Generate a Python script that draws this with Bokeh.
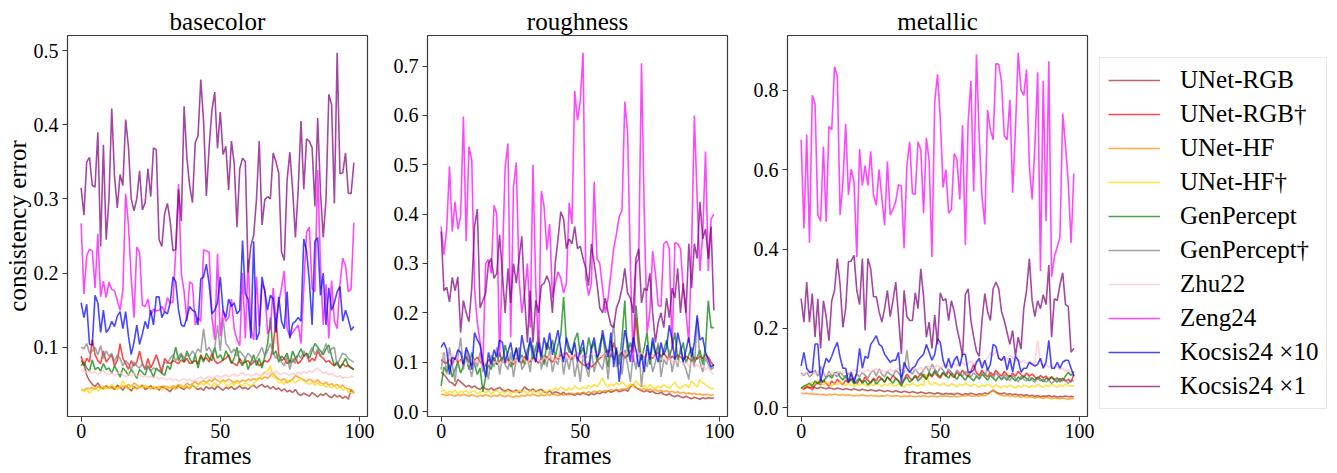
from bokeh.plotting import figure
from bokeh.layouts import row
from bokeh.models import Range1d, FixedTicker, Legend, LegendItem, NumeralTickFormatter
from bokeh.embed import file_html
from bokeh.resources import INLINE

FONT = "Liberation Serif"

series_names = ["UNet-RGB", "UNet-RGB†", "UNet-HF", "UNet-HF†", "GenPercept",
                "GenPercept†", "Zhu22", "Zeng24", "Kocsis24 ×10", "Kocsis24 ×1"]
series_colors = ["brown", "red", "darkorange", "gold", "green",
                 "gray", "pink", "magenta", "blue", "purple"]
panel_titles = ["basecolor", "roughness", "metallic"]
x_label = "frames"
y_label = "consistency error"
x_ticks = [0, 50, 100]
y_ticks_basecolor = [0.1, 0.2, 0.3, 0.4, 0.5]
y_ticks_roughness = [0.0, 0.1, 0.2, 0.3, 0.4, 0.5, 0.6, 0.7]
y_ticks_metallic = [0.0, 0.2, 0.4, 0.6, 0.8]

# ---------------- basecolor ----------------
bc_unet_rgb = [
    0.082, 0.078, 0.062, 0.055, 0.050, 0.047, 0.052, 0.046, 0.044, 0.048,
    0.045, 0.047, 0.043, 0.049, 0.046, 0.042, 0.048, 0.045, 0.041, 0.047,
    0.044, 0.046, 0.049, 0.043, 0.045, 0.048, 0.044, 0.046, 0.042, 0.047,
    0.045, 0.043, 0.040, 0.046, 0.044, 0.048, 0.045, 0.043, 0.047, 0.044,
    0.049, 0.046, 0.043, 0.045, 0.042, 0.047, 0.044, 0.046, 0.043, 0.048,
    0.045, 0.042, 0.046, 0.044, 0.047, 0.043, 0.045, 0.048, 0.044, 0.046,
    0.043, 0.047, 0.049, 0.045, 0.048, 0.050, 0.046, 0.048, 0.044, 0.047,
    0.043, 0.045, 0.041, 0.044, 0.040, 0.042, 0.039, 0.043, 0.037, 0.035,
    0.038, 0.036, 0.034, 0.039, 0.036, 0.033, 0.037, 0.035, 0.038, 0.034,
    0.032, 0.036, 0.033, 0.035, 0.031, 0.034, 0.030, 0.043, 0.038]
bc_unet_rgb_d = [
    0.088, 0.075, 0.085, 0.080, 0.110, 0.090, 0.082, 0.078, 0.095, 0.080,
    0.085, 0.090, 0.075, 0.082, 0.105, 0.085, 0.078, 0.070, 0.082, 0.075,
    0.080, 0.095, 0.078, 0.070, 0.085, 0.072, 0.080, 0.090, 0.078, 0.065,
    0.085, 0.080, 0.078, 0.082, 0.080, 0.078, 0.083, 0.080, 0.085, 0.078,
    0.080, 0.082, 0.078, 0.090, 0.083, 0.086, 0.080, 0.092, 0.082, 0.078,
    0.080, 0.083, 0.085, 0.090, 0.080, 0.078, 0.075, 0.085, 0.078, 0.080,
    0.082, 0.076, 0.080, 0.082, 0.075, 0.078, 0.082, 0.080, 0.085, 0.100,
    0.140, 0.090, 0.082, 0.085, 0.078, 0.082, 0.080, 0.085, 0.078, 0.082,
    0.088, 0.092, 0.080, 0.085, 0.082, 0.095, 0.088, 0.085, 0.080, 0.082,
    0.078, 0.075, 0.080, 0.072, 0.078, 0.074, 0.076, 0.073, 0.070]
bc_unet_hf = [
    0.043, 0.042, 0.045, 0.044, 0.046, 0.043, 0.047, 0.045, 0.044, 0.048,
    0.046, 0.045, 0.043, 0.047, 0.045, 0.048, 0.046, 0.050, 0.047, 0.052,
    0.049, 0.046, 0.048, 0.045, 0.047, 0.044, 0.046, 0.045, 0.047, 0.046,
    0.048, 0.046, 0.045, 0.048, 0.047, 0.050, 0.048, 0.046, 0.052, 0.049,
    0.051, 0.054, 0.050, 0.053, 0.055, 0.052, 0.056, 0.054, 0.058, 0.055,
    0.053, 0.056, 0.054, 0.057, 0.055, 0.052, 0.055, 0.053, 0.056, 0.054,
    0.057, 0.055, 0.058, 0.056, 0.059, 0.057, 0.060, 0.058, 0.062, 0.065,
    0.060, 0.057, 0.055, 0.058, 0.052, 0.055, 0.057, 0.062, 0.060, 0.058,
    0.056, 0.054, 0.057, 0.055, 0.053, 0.056, 0.052, 0.050, 0.053, 0.049,
    0.051, 0.048, 0.050, 0.046, 0.049, 0.045, 0.044, 0.042, 0.040]
bc_unet_hf_d = [
    0.044, 0.040, 0.043, 0.038, 0.042, 0.046, 0.041, 0.044, 0.048, 0.043,
    0.045, 0.050, 0.046, 0.043, 0.047, 0.055, 0.046, 0.044, 0.048, 0.045,
    0.043, 0.047, 0.045, 0.049, 0.046, 0.044, 0.047, 0.043, 0.046, 0.042,
    0.045, 0.048, 0.044, 0.047, 0.043, 0.046, 0.049, 0.045, 0.048, 0.044,
    0.050, 0.046, 0.048, 0.052, 0.049, 0.053, 0.050, 0.048, 0.052, 0.049,
    0.051, 0.055, 0.050, 0.047, 0.052, 0.049, 0.053, 0.050, 0.048, 0.052,
    0.050, 0.047, 0.051, 0.055, 0.058, 0.062, 0.066, 0.068, 0.075, 0.060,
    0.058, 0.052, 0.054, 0.050, 0.056, 0.053, 0.055, 0.052, 0.055, 0.058,
    0.054, 0.052, 0.050, 0.053, 0.049, 0.052, 0.048, 0.050, 0.046, 0.049,
    0.045, 0.048, 0.044, 0.047, 0.042, 0.045, 0.040, 0.038, 0.040]
bc_genpercept = [
    0.075, 0.080, 0.072, 0.068, 0.083, 0.070, 0.073, 0.068, 0.078, 0.070,
    0.072, 0.065, 0.075, 0.068, 0.060, 0.072, 0.068, 0.062, 0.070, 0.065,
    0.058, 0.070, 0.066, 0.062, 0.075, 0.068, 0.060, 0.072, 0.068, 0.065,
    0.062, 0.075, 0.070, 0.085, 0.100, 0.082, 0.090, 0.080, 0.095, 0.085,
    0.078, 0.090, 0.072, 0.088, 0.080, 0.092, 0.085, 0.082, 0.100, 0.085,
    0.090, 0.082, 0.095, 0.088, 0.078, 0.085, 0.100, 0.080, 0.075, 0.085,
    0.070, 0.080, 0.090, 0.075, 0.085, 0.072, 0.088, 0.105, 0.140, 0.090,
    0.095, 0.080, 0.088, 0.085, 0.092, 0.078, 0.095, 0.085, 0.090, 0.098,
    0.088, 0.092, 0.085, 0.095, 0.105, 0.100, 0.095, 0.090, 0.098, 0.103,
    0.088, 0.075, 0.080, 0.072, 0.078, 0.085, 0.075, 0.072, 0.070]
bc_genpercept_d = [
    0.100, 0.098, 0.105, 0.092, 0.095, 0.100, 0.090, 0.102, 0.085, 0.095,
    0.088, 0.092, 0.080, 0.090, 0.085, 0.075, 0.082, 0.078, 0.070, 0.080,
    0.075, 0.072, 0.078, 0.070, 0.074, 0.068, 0.072, 0.070, 0.068, 0.072,
    0.080, 0.078, 0.085, 0.090, 0.082, 0.088, 0.092, 0.085, 0.090, 0.088,
    0.095, 0.090, 0.098, 0.093, 0.125, 0.095, 0.100, 0.092, 0.098, 0.130,
    0.095, 0.140, 0.105, 0.100, 0.092, 0.098, 0.088, 0.095, 0.090, 0.085,
    0.092, 0.088, 0.080, 0.085, 0.092, 0.100, 0.088, 0.095, 0.105, 0.092,
    0.085, 0.090, 0.080, 0.075, 0.088, 0.070, 0.085, 0.078, 0.090, 0.085,
    0.095, 0.088, 0.092, 0.100, 0.090, 0.098, 0.088, 0.095, 0.105, 0.092,
    0.098, 0.100, 0.075, 0.085, 0.092, 0.090, 0.085, 0.082, 0.080]
bc_zhu22 = [
    0.070, 0.068, 0.066, 0.068, 0.065, 0.067, 0.064, 0.066, 0.068, 0.065,
    0.063, 0.066, 0.062, 0.064, 0.067, 0.063, 0.060, 0.064, 0.062, 0.065,
    0.061, 0.063, 0.060, 0.062, 0.059, 0.061, 0.058, 0.060, 0.057, 0.059,
    0.058, 0.056, 0.058, 0.055, 0.057, 0.054, 0.056, 0.058, 0.055, 0.057,
    0.054, 0.056, 0.058, 0.060, 0.057, 0.059, 0.061, 0.058, 0.060, 0.062,
    0.059, 0.061, 0.063, 0.060, 0.062, 0.064, 0.061, 0.063, 0.066, 0.062,
    0.064, 0.061, 0.063, 0.065, 0.062, 0.064, 0.067, 0.063, 0.066, 0.064,
    0.068, 0.065, 0.063, 0.066, 0.064, 0.062, 0.065, 0.063, 0.066, 0.064,
    0.067, 0.065, 0.068, 0.066, 0.070, 0.072, 0.068, 0.065, 0.067, 0.063,
    0.065, 0.062, 0.060, 0.062, 0.058, 0.060, 0.059, 0.061, 0.060]
bc_zeng24 = [
    0.267, 0.172, 0.223, 0.232, 0.230, 0.180, 0.253, 0.168, 0.189, 0.167,
    0.188, 0.178, 0.176, 0.163, 0.150, 0.178, 0.307, 0.265, 0.193, 0.140,
    0.235, 0.228, 0.157, 0.155, 0.165, 0.143, 0.151, 0.149, 0.150, 0.155,
    0.148, 0.167, 0.160, 0.161, 0.231, 0.320, 0.200, 0.175, 0.135, 0.188,
    0.185, 0.130, 0.140, 0.135, 0.231, 0.230, 0.228, 0.140, 0.110, 0.226,
    0.115, 0.150, 0.135, 0.140, 0.165, 0.125, 0.110, 0.102, 0.200, 0.112,
    0.218, 0.125, 0.110, 0.195, 0.128, 0.185, 0.178, 0.118, 0.125, 0.180,
    0.135, 0.160, 0.180, 0.203, 0.125, 0.115, 0.120, 0.125, 0.130, 0.105,
    0.180, 0.255, 0.262, 0.180, 0.175, 0.339, 0.210, 0.130, 0.185, 0.112,
    0.190, 0.135, 0.125, 0.185, 0.220, 0.210, 0.175, 0.178, 0.268]
bc_kocsis10 = [
    0.160, 0.140, 0.158, 0.104, 0.103, 0.170, 0.160, 0.120, 0.150, 0.120,
    0.125, 0.135, 0.128, 0.142, 0.148, 0.125, 0.148, 0.115, 0.090, 0.107,
    0.130, 0.104, 0.118, 0.135, 0.125, 0.150, 0.130, 0.168, 0.168, 0.140,
    0.148, 0.145, 0.160, 0.195, 0.188, 0.150, 0.130, 0.128, 0.140, 0.155,
    0.150, 0.148, 0.130, 0.192, 0.195, 0.212, 0.185, 0.145, 0.150, 0.160,
    0.195, 0.150, 0.140, 0.165, 0.155, 0.160, 0.145, 0.150, 0.244, 0.172,
    0.165, 0.112, 0.243, 0.110, 0.120, 0.195, 0.175, 0.150, 0.170, 0.165,
    0.120, 0.168, 0.135, 0.125, 0.175, 0.112, 0.132, 0.135, 0.140, 0.135,
    0.246, 0.230, 0.190, 0.130, 0.243, 0.248, 0.170, 0.200, 0.130, 0.180,
    0.150, 0.160, 0.175, 0.182, 0.135, 0.150, 0.138, 0.123, 0.128]
bc_kocsis1 = [
    0.315, 0.278, 0.350, 0.356, 0.318, 0.316, 0.390, 0.236, 0.373, 0.245,
    0.300, 0.422, 0.330, 0.288, 0.333, 0.318, 0.407, 0.370, 0.300, 0.284,
    0.300, 0.338, 0.285, 0.295, 0.341, 0.303, 0.369, 0.366, 0.245, 0.236,
    0.280, 0.294, 0.270, 0.230, 0.232, 0.313, 0.270, 0.425, 0.355, 0.318,
    0.295, 0.376, 0.385, 0.461, 0.405, 0.304, 0.370, 0.420, 0.444, 0.368,
    0.417, 0.360, 0.371, 0.312, 0.378, 0.348, 0.262, 0.341, 0.355, 0.350,
    0.201, 0.237, 0.251, 0.299, 0.378, 0.265, 0.299, 0.303, 0.300, 0.362,
    0.350, 0.335, 0.229, 0.217, 0.325, 0.363, 0.312, 0.248, 0.313, 0.405,
    0.313, 0.381, 0.378, 0.369, 0.290, 0.409, 0.309, 0.248, 0.300, 0.441,
    0.427, 0.294, 0.497, 0.334, 0.335, 0.362, 0.308, 0.307, 0.349]

# ---------------- roughness ----------------
rg_unet_rgb = [
    0.080, 0.075, 0.068, 0.060, 0.058, 0.052, 0.065, 0.060, 0.055, 0.050,
    0.053, 0.048, 0.052, 0.047, 0.045, 0.050, 0.046, 0.044, 0.048, 0.043,
    0.046, 0.049, 0.044, 0.041, 0.045, 0.042, 0.040, 0.044, 0.038, 0.042,
    0.050, 0.045, 0.042, 0.046, 0.040, 0.043, 0.045, 0.040, 0.038, 0.042,
    0.036, 0.040, 0.038, 0.035, 0.039, 0.034, 0.037, 0.035, 0.033, 0.036,
    0.034, 0.038, 0.035, 0.033, 0.037, 0.034, 0.038, 0.036, 0.040, 0.038,
    0.042, 0.039, 0.041, 0.044, 0.040, 0.042, 0.045, 0.041, 0.050, 0.055,
    0.048, 0.045, 0.042, 0.040, 0.043, 0.039, 0.041, 0.037, 0.036, 0.039,
    0.035, 0.033, 0.036, 0.032, 0.030, 0.033, 0.030, 0.028, 0.031, 0.028,
    0.026, 0.029, 0.027, 0.025, 0.028, 0.026, 0.028, 0.027, 0.028]
rg_unet_rgb_d = [
    0.105, 0.100, 0.098, 0.108, 0.095, 0.110, 0.100, 0.105, 0.098, 0.112,
    0.100, 0.094, 0.105, 0.110, 0.100, 0.098, 0.092, 0.105, 0.100, 0.108,
    0.096, 0.102, 0.110, 0.098, 0.106, 0.100, 0.095, 0.108, 0.102, 0.098,
    0.112, 0.104, 0.100, 0.110, 0.105, 0.098, 0.108, 0.102, 0.112, 0.105,
    0.100, 0.110, 0.106, 0.115, 0.108, 0.120, 0.110, 0.105, 0.115, 0.108,
    0.100, 0.095, 0.092, 0.098, 0.090, 0.095, 0.102, 0.108, 0.112, 0.118,
    0.125, 0.110, 0.140, 0.118, 0.112, 0.120, 0.108, 0.115, 0.122, 0.130,
    0.190, 0.125, 0.115, 0.110, 0.118, 0.112, 0.108, 0.115, 0.120, 0.112,
    0.118, 0.110, 0.105, 0.112, 0.108, 0.115, 0.110, 0.105, 0.112, 0.108,
    0.102, 0.110, 0.106, 0.112, 0.108, 0.115, 0.110, 0.100, 0.092]
rg_unet_hf = [
    0.035, 0.034, 0.032, 0.035, 0.033, 0.031, 0.034, 0.032, 0.035, 0.033,
    0.031, 0.034, 0.032, 0.030, 0.033, 0.031, 0.034, 0.032, 0.030, 0.033,
    0.031, 0.034, 0.032, 0.030, 0.033, 0.031, 0.029, 0.032, 0.030, 0.033,
    0.031, 0.034, 0.032, 0.035, 0.033, 0.031, 0.034, 0.032, 0.035, 0.033,
    0.036, 0.034, 0.032, 0.035, 0.033, 0.036, 0.034, 0.037, 0.035, 0.038,
    0.036, 0.039, 0.037, 0.040, 0.038, 0.041, 0.039, 0.042, 0.040, 0.043,
    0.041, 0.044, 0.042, 0.045, 0.043, 0.046, 0.044, 0.047, 0.050, 0.055,
    0.048, 0.046, 0.044, 0.047, 0.043, 0.045, 0.042, 0.044, 0.041, 0.043,
    0.040, 0.042, 0.039, 0.041, 0.038, 0.040, 0.037, 0.039, 0.036, 0.038,
    0.035, 0.037, 0.034, 0.036, 0.033, 0.035, 0.034, 0.033, 0.034]
rg_unet_hf_d = [
    0.040, 0.045, 0.035, 0.042, 0.038, 0.044, 0.036, 0.041, 0.039, 0.043,
    0.037, 0.040, 0.042, 0.036, 0.039, 0.041, 0.038, 0.042, 0.036, 0.040,
    0.043, 0.037, 0.041, 0.038, 0.042, 0.036, 0.040, 0.038, 0.043, 0.039,
    0.041, 0.037, 0.042, 0.038, 0.044, 0.040, 0.036, 0.042, 0.039, 0.045,
    0.041, 0.048, 0.043, 0.050, 0.046, 0.042, 0.048, 0.044, 0.052, 0.047,
    0.045, 0.050, 0.046, 0.053, 0.048, 0.055, 0.050, 0.058, 0.068, 0.055,
    0.050, 0.056, 0.052, 0.058, 0.054, 0.060, 0.055, 0.050, 0.056, 0.052,
    0.062, 0.055, 0.050, 0.053, 0.048, 0.055, 0.050, 0.046, 0.052, 0.048,
    0.055, 0.050, 0.047, 0.053, 0.060, 0.050, 0.046, 0.052, 0.055, 0.048,
    0.062, 0.055, 0.050, 0.065, 0.058, 0.055, 0.050, 0.047, 0.046]
rg_genpercept = [
    0.052, 0.090, 0.080, 0.095, 0.070, 0.085, 0.100, 0.078, 0.092, 0.110,
    0.085, 0.120, 0.095, 0.075, 0.088, 0.040, 0.070, 0.095, 0.085, 0.110,
    0.095, 0.120, 0.098, 0.135, 0.110, 0.090, 0.105, 0.128, 0.100, 0.115,
    0.095, 0.125, 0.140, 0.105, 0.130, 0.150, 0.118, 0.095, 0.140, 0.125,
    0.145, 0.110, 0.135, 0.155, 0.232, 0.140, 0.120, 0.120, 0.145, 0.160,
    0.115, 0.130, 0.108, 0.150, 0.125, 0.140, 0.100, 0.135, 0.155, 0.120,
    0.090, 0.145, 0.105, 0.125, 0.095, 0.150, 0.225, 0.110, 0.140, 0.120,
    0.215, 0.150, 0.105, 0.130, 0.160, 0.095, 0.140, 0.115, 0.135, 0.100,
    0.125, 0.145, 0.110, 0.130, 0.160, 0.105, 0.120, 0.140, 0.098, 0.115,
    0.130, 0.100, 0.110, 0.125, 0.095, 0.130, 0.225, 0.170, 0.170]
rg_genpercept_d = [
    0.085, 0.120, 0.075, 0.130, 0.095, 0.060, 0.110, 0.150, 0.085, 0.125,
    0.095, 0.070, 0.105, 0.090, 0.120, 0.080, 0.100, 0.065, 0.115, 0.090,
    0.130, 0.075, 0.110, 0.095, 0.085, 0.120, 0.070, 0.105, 0.130, 0.085,
    0.095, 0.110, 0.080, 0.135, 0.100, 0.165, 0.085, 0.115, 0.090, 0.125,
    0.080, 0.105, 0.095, 0.130, 0.075, 0.110, 0.085, 0.120, 0.070, 0.100,
    0.060, 0.115, 0.090, 0.070, 0.125, 0.080, 0.105, 0.095, 0.085, 0.120,
    0.065, 0.130, 0.180, 0.090, 0.110, 0.075, 0.125, 0.095, 0.060, 0.115,
    0.085, 0.130, 0.050, 0.110, 0.090, 0.120, 0.080, 0.100, 0.140, 0.070,
    0.105, 0.095, 0.125, 0.080, 0.110, 0.090, 0.130, 0.100, 0.085, 0.065,
    0.115, 0.090, 0.190, 0.100, 0.080, 0.110, 0.095, 0.085, 0.090]
rg_zhu22 = [
    0.120, 0.110, 0.115, 0.105, 0.118, 0.100, 0.112, 0.098, 0.108, 0.102,
    0.095, 0.110, 0.100, 0.105, 0.098, 0.092, 0.100, 0.095, 0.105, 0.098,
    0.102, 0.095, 0.100, 0.108, 0.097, 0.103, 0.099, 0.106, 0.100, 0.110,
    0.104, 0.098, 0.108, 0.102, 0.112, 0.105, 0.100, 0.110, 0.104, 0.115,
    0.108, 0.102, 0.112, 0.106, 0.118, 0.110, 0.105, 0.115, 0.108, 0.120,
    0.112, 0.106, 0.115, 0.110, 0.118, 0.112, 0.120, 0.115, 0.110, 0.118,
    0.112, 0.122, 0.115, 0.110, 0.120, 0.125, 0.115, 0.118, 0.130, 0.120,
    0.125, 0.115, 0.120, 0.112, 0.118, 0.110, 0.115, 0.108, 0.112, 0.105,
    0.110, 0.102, 0.108, 0.100, 0.105, 0.098, 0.102, 0.095, 0.100, 0.093,
    0.098, 0.090, 0.095, 0.088, 0.092, 0.085, 0.090, 0.080, 0.075]
rg_zeng24 = [
    0.375, 0.318, 0.370, 0.497, 0.365, 0.425, 0.370, 0.395, 0.598, 0.345,
    0.537, 0.510, 0.250, 0.180, 0.140, 0.092, 0.300, 0.308, 0.280, 0.418,
    0.400, 0.110, 0.300, 0.495, 0.543, 0.150, 0.455, 0.505, 0.270, 0.200,
    0.240, 0.300, 0.170, 0.500, 0.255, 0.120, 0.447, 0.415, 0.328, 0.380,
    0.230, 0.260, 0.283, 0.270, 0.240, 0.260, 0.423, 0.380, 0.650, 0.590,
    0.630, 0.727, 0.270, 0.235, 0.260, 0.465, 0.310, 0.300, 0.250, 0.200,
    0.230, 0.280, 0.330, 0.360, 0.395, 0.408, 0.628, 0.565, 0.300, 0.100,
    0.300, 0.310, 0.706, 0.400, 0.160, 0.200, 0.325, 0.280, 0.215, 0.213,
    0.340, 0.345, 0.330, 0.125, 0.342, 0.340, 0.330, 0.250, 0.200, 0.140,
    0.330, 0.600, 0.430, 0.285, 0.360, 0.527, 0.285, 0.390, 0.400]
rg_kocsis10 = [
    0.130, 0.140, 0.125, 0.075, 0.110, 0.105, 0.125, 0.120, 0.095, 0.130,
    0.115, 0.085, 0.160, 0.145, 0.135, 0.100, 0.070, 0.120, 0.095, 0.125,
    0.110, 0.145, 0.140, 0.100, 0.120, 0.140, 0.105, 0.130, 0.100, 0.155,
    0.125, 0.105, 0.150, 0.120, 0.100, 0.140, 0.110, 0.150, 0.125, 0.160,
    0.115, 0.140, 0.165, 0.125, 0.100, 0.150, 0.130, 0.115, 0.140, 0.100,
    0.125, 0.145, 0.095, 0.085, 0.130, 0.150, 0.110, 0.120, 0.165, 0.135,
    0.110, 0.160, 0.090, 0.130, 0.060, 0.115, 0.165, 0.140, 0.100, 0.150,
    0.125, 0.090, 0.115, 0.080, 0.135, 0.105, 0.150, 0.120, 0.100, 0.140,
    0.115, 0.130, 0.175, 0.145, 0.105, 0.160, 0.135, 0.100, 0.125, 0.150,
    0.110, 0.140, 0.195, 0.145, 0.150, 0.120, 0.105, 0.090, 0.095]
rg_kocsis1 = [
    0.365, 0.245, 0.252, 0.222, 0.272, 0.245, 0.273, 0.160, 0.225, 0.200,
    0.182, 0.250, 0.375, 0.410, 0.210, 0.225, 0.240, 0.300, 0.310, 0.270,
    0.280, 0.358, 0.280, 0.200, 0.290, 0.220, 0.300, 0.260, 0.310, 0.355,
    0.230, 0.140, 0.245, 0.140, 0.225, 0.200, 0.255, 0.260, 0.275, 0.260,
    0.200, 0.300, 0.350, 0.405, 0.390, 0.330, 0.350, 0.340, 0.375, 0.330,
    0.335, 0.310, 0.290, 0.255, 0.340, 0.300, 0.260, 0.210, 0.200, 0.230,
    0.200, 0.175, 0.170, 0.210, 0.225, 0.250, 0.290, 0.240, 0.230, 0.200,
    0.310, 0.330, 0.220, 0.250, 0.245, 0.280, 0.200, 0.140, 0.180, 0.200,
    0.170, 0.230, 0.190, 0.250, 0.230, 0.290, 0.200, 0.260, 0.200, 0.340,
    0.250, 0.340, 0.310, 0.425, 0.350, 0.370, 0.310, 0.375, 0.205]

# ---------------- metallic ----------------
mt_unet_rgb = [
    0.050, 0.048, 0.052, 0.050, 0.053, 0.051, 0.049, 0.052, 0.050, 0.048,
    0.051, 0.049, 0.047, 0.050, 0.048, 0.046, 0.049, 0.047, 0.045, 0.048,
    0.046, 0.044, 0.047, 0.045, 0.043, 0.046, 0.044, 0.042, 0.045, 0.043,
    0.041, 0.044, 0.042, 0.040, 0.043, 0.041, 0.039, 0.042, 0.040, 0.038,
    0.041, 0.039, 0.037, 0.040, 0.038, 0.036, 0.039, 0.037, 0.035, 0.038,
    0.036, 0.034, 0.037, 0.035, 0.036, 0.034, 0.037, 0.035, 0.033, 0.036,
    0.034, 0.037, 0.035, 0.033, 0.036, 0.034, 0.038, 0.035, 0.040, 0.045,
    0.040, 0.037, 0.035, 0.038, 0.034, 0.036, 0.033, 0.035, 0.032, 0.034,
    0.031, 0.033, 0.030, 0.032, 0.029, 0.031, 0.028, 0.030, 0.029, 0.031,
    0.028, 0.030, 0.027, 0.029, 0.028, 0.030, 0.028, 0.029, 0.028]
mt_unet_rgb_d = [
    0.050, 0.048, 0.055, 0.052, 0.045, 0.058, 0.065, 0.058, 0.070, 0.062,
    0.055, 0.068, 0.060, 0.072, 0.065, 0.058, 0.070, 0.063, 0.075, 0.068,
    0.060, 0.072, 0.065, 0.078, 0.070, 0.062, 0.075, 0.068, 0.080, 0.072,
    0.065, 0.078, 0.070, 0.082, 0.074, 0.068, 0.060, 0.072, 0.085, 0.076,
    0.070, 0.082, 0.075, 0.088, 0.078, 0.072, 0.085, 0.078, 0.090, 0.080,
    0.075, 0.088, 0.080, 0.092, 0.082, 0.076, 0.090, 0.082, 0.095, 0.085,
    0.078, 0.092, 0.110, 0.088, 0.082, 0.095, 0.085, 0.078, 0.090, 0.082,
    0.095, 0.086, 0.080, 0.092, 0.084, 0.078, 0.088, 0.080, 0.092, 0.084,
    0.078, 0.088, 0.080, 0.085, 0.078, 0.072, 0.082, 0.075, 0.080, 0.072,
    0.078, 0.070, 0.076, 0.068, 0.075, 0.068, 0.072, 0.065, 0.085]
mt_unet_hf = [
    0.037, 0.036, 0.037, 0.035, 0.036, 0.034, 0.035, 0.033, 0.034, 0.032,
    0.034, 0.033, 0.035, 0.033, 0.032, 0.034, 0.031, 0.033, 0.032, 0.030,
    0.032, 0.031, 0.033, 0.031, 0.030, 0.032, 0.030, 0.031, 0.029, 0.031,
    0.030, 0.032, 0.030, 0.029, 0.031, 0.030, 0.028, 0.030, 0.029, 0.031,
    0.029, 0.028, 0.030, 0.029, 0.031, 0.029, 0.028, 0.030, 0.029, 0.028,
    0.030, 0.029, 0.031, 0.029, 0.028, 0.030, 0.028, 0.029, 0.031, 0.030,
    0.032, 0.030, 0.029, 0.031, 0.030, 0.032, 0.030, 0.035, 0.040, 0.045,
    0.038, 0.034, 0.032, 0.030, 0.032, 0.029, 0.031, 0.028, 0.030, 0.027,
    0.029, 0.026, 0.028, 0.027, 0.025, 0.027, 0.026, 0.024, 0.026, 0.025,
    0.023, 0.025, 0.024, 0.023, 0.025, 0.023, 0.022, 0.024, 0.023]
mt_unet_hf_d = [
    0.048, 0.052, 0.058, 0.055, 0.065, 0.060, 0.070, 0.062, 0.058, 0.065,
    0.060, 0.055, 0.062, 0.058, 0.065, 0.060, 0.056, 0.062, 0.058, 0.053,
    0.060, 0.056, 0.062, 0.058, 0.054, 0.060, 0.056, 0.063, 0.058, 0.054,
    0.060, 0.056, 0.062, 0.058, 0.055, 0.061, 0.057, 0.052, 0.060, 0.056,
    0.062, 0.058, 0.054, 0.060, 0.057, 0.085, 0.062, 0.058, 0.064, 0.060,
    0.056, 0.062, 0.058, 0.055, 0.061, 0.057, 0.053, 0.060, 0.056, 0.062,
    0.058, 0.054, 0.060, 0.056, 0.052, 0.058, 0.054, 0.060, 0.056, 0.052,
    0.058, 0.054, 0.050, 0.056, 0.052, 0.058, 0.054, 0.050, 0.056, 0.052,
    0.058, 0.055, 0.051, 0.057, 0.053, 0.060, 0.055, 0.052, 0.058, 0.054,
    0.060, 0.056, 0.052, 0.058, 0.054, 0.060, 0.056, 0.055, 0.055]
mt_genpercept = [
    0.050, 0.055, 0.058, 0.062, 0.055, 0.068, 0.060, 0.072, 0.065, 0.078,
    0.082, 0.075, 0.088, 0.090, 0.078, 0.070, 0.082, 0.065, 0.072, 0.060,
    0.068, 0.075, 0.062, 0.070, 0.058, 0.065, 0.072, 0.060, 0.068, 0.075,
    0.065, 0.078, 0.070, 0.062, 0.075, 0.068, 0.055, 0.070, 0.078, 0.065,
    0.072, 0.080, 0.068, 0.075, 0.085, 0.072, 0.090, 0.080, 0.095, 0.085,
    0.078, 0.090, 0.082, 0.075, 0.088, 0.080, 0.072, 0.085, 0.078, 0.070,
    0.082, 0.075, 0.068, 0.080, 0.072, 0.085, 0.078, 0.070, 0.082, 0.075,
    0.068, 0.080, 0.072, 0.078, 0.070, 0.082, 0.075, 0.068, 0.078, 0.072,
    0.080, 0.074, 0.068, 0.076, 0.070, 0.078, 0.072, 0.066, 0.075, 0.070,
    0.078, 0.072, 0.065, 0.074, 0.068, 0.080, 0.090, 0.082, 0.092]
mt_genpercept_d = [
    0.088, 0.082, 0.090, 0.078, 0.085, 0.095, 0.080, 0.105, 0.088, 0.075,
    0.092, 0.080, 0.085, 0.078, 0.090, 0.082, 0.075, 0.088, 0.080, 0.072,
    0.085, 0.078, 0.090, 0.082, 0.075, 0.088, 0.095, 0.080, 0.098, 0.085,
    0.078, 0.092, 0.085, 0.080, 0.095, 0.088, 0.078, 0.090, 0.145, 0.092,
    0.085, 0.098, 0.088, 0.082, 0.095, 0.105, 0.090, 0.110, 0.098, 0.088,
    0.102, 0.095, 0.085, 0.098, 0.090, 0.082, 0.095, 0.088, 0.080, 0.092,
    0.085, 0.078, 0.088, 0.082, 0.075, 0.090, 0.082, 0.098, 0.085, 0.075,
    0.088, 0.080, 0.070, 0.085, 0.078, 0.068, 0.082, 0.075, 0.065, 0.080,
    0.072, 0.068, 0.078, 0.070, 0.065, 0.075, 0.068, 0.072, 0.065, 0.070,
    0.062, 0.068, 0.075, 0.065, 0.072, 0.068, 0.062, 0.070, 0.068]
mt_zhu22 = [
    0.080, 0.085, 0.090, 0.088, 0.092, 0.086, 0.090, 0.084, 0.088, 0.082,
    0.086, 0.090, 0.085, 0.088, 0.092, 0.086, 0.095, 0.088, 0.092, 0.098,
    0.090, 0.094, 0.088, 0.092, 0.096, 0.090, 0.094, 0.100, 0.092, 0.096,
    0.090, 0.094, 0.098, 0.092, 0.096, 0.100, 0.094, 0.098, 0.092, 0.096,
    0.100, 0.095, 0.098, 0.102, 0.096, 0.100, 0.105, 0.098, 0.102, 0.108,
    0.100, 0.105, 0.110, 0.104, 0.108, 0.112, 0.106, 0.110, 0.115, 0.108,
    0.112, 0.118, 0.110, 0.115, 0.120, 0.112, 0.118, 0.125, 0.140, 0.130,
    0.145, 0.125, 0.118, 0.128, 0.120, 0.132, 0.125, 0.118, 0.122, 0.115,
    0.120, 0.112, 0.118, 0.110, 0.115, 0.170, 0.112, 0.105, 0.110, 0.102,
    0.108, 0.100, 0.104, 0.096, 0.100, 0.092, 0.096, 0.088, 0.085]
mt_zeng24 = [
    0.675, 0.452, 0.688, 0.415, 0.787, 0.766, 0.486, 0.470, 0.658, 0.469,
    0.709, 0.700, 0.859, 0.835, 0.486, 0.566, 0.715, 0.536, 0.601, 0.570,
    0.380, 0.652, 0.560, 0.610, 0.560, 0.646, 0.536, 0.510, 0.600, 0.530,
    0.460, 0.620, 0.486, 0.500, 0.520, 0.562, 0.558, 0.402, 0.610, 0.670,
    0.540, 0.538, 0.670, 0.650, 0.490, 0.680, 0.622, 0.380, 0.770, 0.840,
    0.730, 0.555, 0.600, 0.490, 0.500, 0.640, 0.625, 0.525, 0.712, 0.410,
    0.720, 0.823, 0.545, 0.890, 0.680, 0.530, 0.462, 0.750, 0.700, 0.675,
    0.867, 0.865, 0.820, 0.685, 0.675, 0.776, 0.542, 0.700, 0.894, 0.800,
    0.787, 0.852, 0.610, 0.525, 0.660, 0.845, 0.345, 0.823, 0.470, 0.873,
    0.330, 0.380, 0.405, 0.430, 0.741, 0.660, 0.566, 0.415, 0.590]
mt_kocsis10 = [
    0.106, 0.140, 0.100, 0.090, 0.090, 0.161, 0.161, 0.064, 0.100, 0.125,
    0.115, 0.130, 0.150, 0.165, 0.128, 0.100, 0.100, 0.065, 0.090, 0.064,
    0.090, 0.150, 0.100, 0.130, 0.125, 0.160, 0.170, 0.182, 0.160, 0.155,
    0.135, 0.125, 0.115, 0.120, 0.120, 0.140, 0.064, 0.115, 0.100, 0.090,
    0.100, 0.105, 0.120, 0.128, 0.135, 0.160, 0.140, 0.120, 0.135, 0.175,
    0.165, 0.120, 0.100, 0.125, 0.100, 0.120, 0.130, 0.105, 0.135, 0.135,
    0.090, 0.090, 0.095, 0.115, 0.125, 0.100, 0.120, 0.095, 0.110, 0.160,
    0.155, 0.125, 0.120, 0.130, 0.095, 0.125, 0.090, 0.130, 0.120, 0.090,
    0.100, 0.100, 0.115, 0.110, 0.105, 0.110, 0.125, 0.100, 0.115, 0.170,
    0.100, 0.100, 0.115, 0.100, 0.115, 0.120, 0.120, 0.100, 0.080]
mt_kocsis1 = [
    0.275, 0.216, 0.317, 0.216, 0.288, 0.178, 0.275, 0.150, 0.270, 0.230,
    0.169, 0.270, 0.296, 0.376, 0.310, 0.203, 0.250, 0.368, 0.370, 0.384,
    0.296, 0.260, 0.376, 0.195, 0.376, 0.350, 0.280, 0.280, 0.243, 0.216,
    0.250, 0.296, 0.230, 0.270, 0.317, 0.230, 0.136, 0.296, 0.230, 0.220,
    0.220, 0.290, 0.250, 0.350, 0.280, 0.178, 0.216, 0.150, 0.234, 0.160,
    0.290, 0.270, 0.275, 0.220, 0.270, 0.243, 0.200, 0.169, 0.130, 0.285,
    0.300, 0.220, 0.178, 0.143, 0.130, 0.220, 0.288, 0.243, 0.220, 0.300,
    0.317, 0.300, 0.243, 0.220, 0.190, 0.160, 0.195, 0.130, 0.178, 0.148,
    0.250, 0.296, 0.376, 0.270, 0.230, 0.270, 0.250, 0.285, 0.260, 0.360,
    0.178, 0.275, 0.270, 0.310, 0.340, 0.260, 0.255, 0.140, 0.150]

panels = [
    [bc_unet_rgb, bc_unet_rgb_d, bc_unet_hf, bc_unet_hf_d, bc_genpercept,
     bc_genpercept_d, bc_zhu22, bc_zeng24, bc_kocsis10, bc_kocsis1],
    [rg_unet_rgb, rg_unet_rgb_d, rg_unet_hf, rg_unet_hf_d, rg_genpercept,
     rg_genpercept_d, rg_zhu22, rg_zeng24, rg_kocsis10, rg_kocsis1],
    [mt_unet_rgb, mt_unet_rgb_d, mt_unet_hf, mt_unet_hf_d, mt_genpercept,
     mt_genpercept_d, mt_zhu22, mt_zeng24, mt_kocsis10, mt_kocsis1],
]
panel_yticks = [y_ticks_basecolor, y_ticks_roughness, y_ticks_metallic]

FRAME_W, FRAME_H = 300, 381
FRAME_COLOR = "#3a3a3a"


def padded_range(lo, hi):
    pad = 0.05 * (hi - lo)
    return Range1d(lo - pad, hi + pad)


def make_panel(idx):
    data = panels[idx]
    n = max(len(s) for s in data)
    ylo = min(min(s) for s in data)
    yhi = max(max(s) for s in data)
    left = 67 if idx == 0 else 50
    right = 250 if idx == 2 else 10
    p = figure(frame_width=FRAME_W, frame_height=FRAME_H,
               x_range=padded_range(0, n - 1), y_range=padded_range(ylo, yhi),
               output_backend="svg", toolbar_location=None,
               min_border_left=left, min_border_right=right,
               min_border_top=35, min_border_bottom=57,
               background_fill_color="white", border_fill_color="white")
    p.grid.visible = False
    p.outline_line_color = FRAME_COLOR
    p.outline_line_width = 1.2
    p.outline_line_alpha = 1.0

    p.title.text = panel_titles[idx]
    p.title.align = "center"
    p.title.text_font = FONT
    p.title.text_font_size = "25px"
    p.title.text_font_style = "normal"
    p.title.text_color = "black"
    p.title.standoff = 1

    p.xaxis.ticker = FixedTicker(ticks=x_ticks)
    p.yaxis.ticker = FixedTicker(ticks=panel_yticks[idx])
    p.yaxis.formatter = NumeralTickFormatter(format="0.0")
    for ax in (p.xaxis[0], p.yaxis[0]):
        ax.axis_line_color = None
        ax.major_tick_line_color = FRAME_COLOR
        ax.major_tick_line_width = 1
        ax.major_tick_out = 5
        ax.major_tick_in = 0
        ax.minor_tick_line_color = None
        ax.major_label_text_font = FONT
        ax.major_label_text_font_size = "20px"
        ax.major_label_text_color = "black"
        ax.axis_label_text_font = FONT
        ax.axis_label_text_font_size = "25px"
        ax.axis_label_text_font_style = "normal"
        ax.axis_label_text_color = "black"
    p.xaxis.major_label_standoff = 2
    p.yaxis.major_label_standoff = 4
    p.xaxis.axis_label = x_label
    p.xaxis.axis_label_standoff = 1
    if idx == 0:
        p.yaxis.axis_label = y_label
        p.yaxis.axis_label_standoff = 0

    renderers = []
    for vals, col in zip(data, series_colors):
        xs = list(range(len(vals)))
        r = p.line(xs, vals, line_color=col, line_width=1.6, line_alpha=0.72)
        renderers.append(r)
    return p, renderers


figs = []
all_renderers = []
for i in range(3):
    f, rs = make_panel(i)
    figs.append(f)
    all_renderers.append(rs)

p3 = figs[2]
legend = Legend(items=[LegendItem(label=name, renderers=[r])
                       for name, r in zip(series_names, all_renderers[2])],
                location=(12, 7))
legend.label_text_font = FONT
legend.label_text_font_size = "25px"
legend.label_text_color = "black"
legend.glyph_width = 52
legend.glyph_height = 20
legend.label_standoff = 20
legend.padding = 8
legend.spacing = 6
legend.margin = 0
legend.border_line_color = "#d0d0d0"
legend.border_line_width = 1
legend.background_fill_color = "white"
legend.background_fill_alpha = 1.0
p3.add_layout(legend, "right")

layout = row(*figs)
open("out.html", "w").write(file_html(layout, INLINE))
